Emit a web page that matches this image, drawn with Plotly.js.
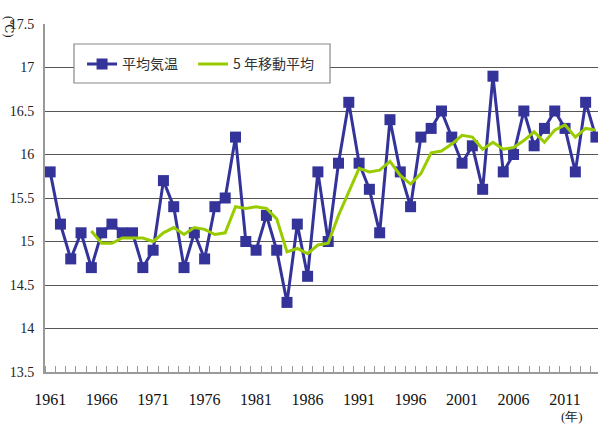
<!DOCTYPE html>
<html><head><meta charset="utf-8">
<script src="https://cdn.plot.ly/plotly-3.0.1.min.js"></script>
<style>html,body{margin:0;padding:0;background:#fff}#chart{width:598px;height:424px}</style>
</head><body><div id="chart"></div>
<script>
const years = [1961,1962,1963,1964,1965,1966,1967,1968,1969,1970,1971,1972,1973,1974,1975,1976,1977,1978,1979,1980,1981,1982,1983,1984,1985,1986,1987,1988,1989,1990,1991,1992,1993,1994,1995,1996,1997,1998,1999,2000,2001,2002,2003,2004,2005,2006,2007,2008,2009,2010,2011,2012,2013,2014];
const meanTemp = [15.8,15.2,14.8,15.1,14.7,15.1,15.2,15.1,15.1,14.7,14.9,15.7,15.4,14.7,15.1,14.8,15.4,15.5,16.2,15.0,14.9,15.3,14.9,14.3,15.2,14.6,15.8,15.0,15.9,16.6,15.9,15.6,15.1,16.4,15.8,15.4,16.2,16.3,16.5,16.2,15.9,16.1,15.6,16.9,15.8,16.0,16.5,16.1,16.3,16.5,16.3,15.8,16.6,16.2];
const maYears = [1965,1966,1967,1968,1969,1970,1971,1972,1973,1974,1975,1976,1977,1978,1979,1980,1981,1982,1983,1984,1985,1986,1987,1988,1989,1990,1991,1992,1993,1994,1995,1996,1997,1998,1999,2000,2001,2002,2003,2004,2005,2006,2007,2008,2009,2010,2011,2012,2013,2014];
const movingAvg = [15.12,14.98,14.98,15.04,15.04,15.04,15.00,15.10,15.16,15.08,15.16,15.14,15.08,15.10,15.40,15.38,15.40,15.38,15.26,14.88,14.92,14.86,14.96,14.98,15.30,15.58,15.84,15.80,15.82,15.92,15.76,15.66,15.78,16.02,16.04,16.12,16.22,16.20,16.06,16.14,16.06,16.08,16.16,16.26,16.14,16.28,16.34,16.20,16.30,16.28];
const xTickVals = [1961,1966,1971,1976,1981,1986,1991,1996,2001,2006,2011];
const xTickText = ["1961","1966","1971","1976","1981","1986","1991","1996","2001","2006","2011"];
const yTickVals = [13.5,14,14.5,15,15.5,16,16.5,17,17.5];
const yTickText = ["13.5","14","14.5","15","15.5","16","16.5","17","17.5"];
const seriesNames = ["平均気温","5 年移動平均"];

const serif = "Liberation Serif, DejaVu Serif, serif";
const traces = [
  {x: years, y: meanTemp, name: seriesNames[0], type: 'scatter', mode: 'lines+markers',
   line: {color: '#333399', width: 3}, marker: {symbol: 'square', size: 11, color: '#333399'},
   cliponaxis: false, legendwidth: 66},
  {x: maYears, y: movingAvg, name: seriesNames[1], type: 'scatter', mode: 'lines',
   line: {color: '#99cc00', width: 3}}
];
const layout = {
  width: 598, height: 424,
  margin: {l: 45, r: 0, t: 24, b: 52},
  paper_bgcolor: '#fff', plot_bgcolor: '#fff',
  showlegend: true,
  legend: {orientation: 'h', x: 0.067, y: 0.93, xanchor: 'left', yanchor: 'top',
    bgcolor: 'rgba(0,0,0,0)', borderwidth: 0,
    font: {family: 'Noto Sans CJK JP, sans-serif', size: 14, color: '#333'}},
  shapes: [
    {type: 'rect', xref: 'paper', yref: 'paper', x0: 0.0524, x1: 0.5154, y0: 0.8305, y1: 0.9425,
     fillcolor: '#fff', line: {color: '#888', width: 1.2}, layer: 'above'}
  ],
  xaxis: {range: [1960.5, 2014.2], tickmode: 'array', tickvals: xTickVals, ticktext: xTickText,
    ticks: '', showgrid: false, zeroline: false, showline: true, linecolor: '#999', linewidth: 2,
    ticklabelstandoff: 12,
    tickfont: {family: serif, size: 16, color: '#111'},
    minor: {dtick: 1, tick0: 1960.5, ticks: 'inside', ticklen: 6, tickcolor: '#999', tickwidth: 1, showgrid: false}},
  yaxis: {range: [13.5, 17.5], tickmode: 'array', tickvals: yTickVals, ticktext: yTickText,
    ticks: '', showgrid: true, gridcolor: '#555', gridwidth: 1, zeroline: false,
    showline: true, linecolor: '#999', linewidth: 2, ticklabelstandoff: 6,
    tickfont: {family: serif, size: 14, color: '#222'}},
  annotations: [
    {text: '(℃)', xref: 'paper', yref: 'paper', x: 0, y: 1, xshift: -36, yshift: -2,
     xanchor: 'center', yanchor: 'middle', textangle: 90, showarrow: false,
     font: {family: serif, size: 12, color: '#222'}},
    {text: '(年)', xref: 'paper', yref: 'paper', x: 1, y: 0, xshift: -13, yshift: -44,
     yanchor: 'middle', showarrow: false,
     font: {family: serif, size: 13, color: '#222'}}
  ]
};
Plotly.newPlot('chart', traces, layout, {displayModeBar: false, staticPlot: true});
</script></body></html>
